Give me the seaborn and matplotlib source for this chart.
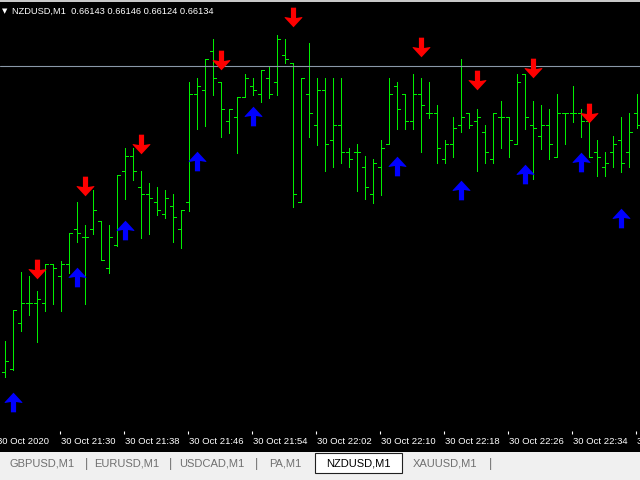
import numpy as np
import matplotlib
matplotlib.use("Agg")
import matplotlib.pyplot as plt
from matplotlib.path import Path
from matplotlib.patches import Rectangle
import seaborn as sns

# NZDUSD M1 bars (prices)
opens = [0.65828, 0.65831, 0.65877, 0.65897, 0.65897, 0.65897, 0.65936, 0.65924, 0.65936, 0.65971,
         0.65963, 0.65971, 0.65979, 0.65932, 0.65955, 0.66029, 0.66044, 0.66013, 0.66006, 0.65998,
         0.65986, 0.65994, 0.65971, 0.65998, 0.66106, 0.66110, 0.66149, 0.66118, 0.66079, 0.66083,
         0.66103, 0.66114, 0.66106, 0.66122, 0.66118, 0.66145, 0.66137, 0.65998, 0.66106, 0.66075,
         0.66110, 0.66060, 0.66075, 0.66048, 0.66048, 0.66033, 0.66006, 0.66033, 0.66056, 0.66114,
         0.66106, 0.66079, 0.66106, 0.66087, 0.66087, 0.66041, 0.66056, 0.66075, 0.66087, 0.66079,
         0.66068, 0.66041, 0.66083, 0.66083, 0.66056, 0.66126, 0.66075, 0.66064, 0.66075, 0.66043,
         0.66087, 0.66087, 0.66087, 0.66079, 0.66048, 0.66033, 0.66048, 0.66060, 0.66048, 0.66087]
highs = [0.65859, 0.65890, 0.65928, 0.65924, 0.65909, 0.65936, 0.65936, 0.65939, 0.65967, 0.65998,
         0.65975, 0.66010, 0.65979, 0.65975, 0.66025, 0.66052, 0.66052, 0.66029, 0.66017, 0.66013,
         0.66010, 0.66006, 0.65990, 0.66118, 0.66122, 0.66141, 0.66161, 0.66118, 0.66091, 0.66103,
         0.66126, 0.66122, 0.66130, 0.66134, 0.66165, 0.66161, 0.66137, 0.66122, 0.66157, 0.66122,
         0.66122, 0.66122, 0.66122, 0.66052, 0.66056, 0.66044, 0.66041, 0.66060, 0.66122, 0.66118,
         0.66106, 0.66126, 0.66122, 0.66118, 0.66095, 0.66060, 0.66083, 0.66141, 0.66087, 0.66091,
         0.66075, 0.66087, 0.66099, 0.66083, 0.66126, 0.66126, 0.66099, 0.66095, 0.66091, 0.66106,
         0.66087, 0.66114, 0.66091, 0.66079, 0.66060, 0.66048, 0.66064, 0.66083, 0.66087, 0.66106]
lows = [0.65823, 0.65830, 0.65869, 0.65885, 0.65858, 0.65889, 0.65896, 0.65889, 0.65927, 0.65958,
        0.65896, 0.65966, 0.65940, 0.65927, 0.65954, 0.66001, 0.66020, 0.65962, 0.65966, 0.65985,
        0.65982, 0.65958, 0.65952, 0.65989, 0.66071, 0.66074, 0.66105, 0.66063, 0.66067, 0.66047,
        0.66103, 0.66105, 0.66098, 0.66102, 0.66105, 0.66137, 0.65993, 0.65998, 0.66063, 0.66055,
        0.66029, 0.66033, 0.66037, 0.66033, 0.66009, 0.66001, 0.65997, 0.66005, 0.66056, 0.66071,
        0.66071, 0.66071, 0.66048, 0.66082, 0.66037, 0.66037, 0.66043, 0.66068, 0.66072, 0.66029,
        0.66037, 0.66037, 0.66052, 0.66043, 0.66056, 0.66071, 0.66021, 0.66051, 0.66041, 0.66043,
        0.66056, 0.66078, 0.66063, 0.66043, 0.66024, 0.66024, 0.66033, 0.66028, 0.66033, 0.66072]
closes = [0.65839, 0.65890, 0.65897, 0.65897, 0.65901, 0.65936, 0.65932, 0.65936, 0.65967, 0.65967,
          0.65963, 0.65990, 0.65940, 0.65963, 0.66025, 0.66044, 0.66029, 0.66006, 0.66002, 0.65990,
          0.66002, 0.65983, 0.65990, 0.66106, 0.66114, 0.66141, 0.66122, 0.66091, 0.66091, 0.66103,
          0.66122, 0.66110, 0.66130, 0.66106, 0.66161, 0.66141, 0.66006, 0.66122, 0.66087, 0.66110,
          0.66056, 0.66075, 0.66048, 0.66041, 0.66048, 0.66013, 0.66037, 0.66052, 0.66106, 0.66091,
          0.66079, 0.66106, 0.66095, 0.66087, 0.66052, 0.66056, 0.66072, 0.66083, 0.66075, 0.66083,
          0.66048, 0.66087, 0.66083, 0.66060, 0.66118, 0.66083, 0.66072, 0.66075, 0.66056, 0.66087,
          0.66087, 0.66087, 0.66079, 0.66043, 0.66043, 0.66037, 0.66056, 0.66037, 0.66068, 0.66075]

# indicator signals: bar index and arrow price
sell_bars = [4, 10, 17, 27, 36, 52, 59, 66, 73]
sell_prices = [0.65931, 0.66014, 0.66056, 0.66140, 0.66183, 0.66153, 0.66120, 0.66132, 0.66087]
buy_bars = [1, 9, 15, 24, 31, 49, 57, 65, 72, 77]
buy_prices = [0.65798, 0.65923, 0.65970, 0.66039, 0.66084, 0.66034, 0.66010, 0.66026, 0.66038, 0.65982]

bid_price = 0.66134
tick_bars = [-1, 7, 15, 23, 31, 39, 47, 55, 63, 71, 79]
tick_labels = ["30 Oct 2020", "30 Oct 21:30", "30 Oct 21:38", "30 Oct 21:46", "30 Oct 21:54",
               "30 Oct 22:02", "30 Oct 22:10", "30 Oct 22:18", "30 Oct 22:26", "30 Oct 22:34",
               "30 Oct 22:42"]
tabs = ["GBPUSD,M1", "EURUSD,M1", "USDCAD,M1", "PA,M1", "NZDUSD,M1", "XAUUSD,M1"]
header = "NZDUSD,M1  0.66143 0.66146 0.66124 0.66134"

sns.set_theme(style="dark", rc={"axes.facecolor": "black", "figure.facecolor": "black"})
plt.rcParams["font.family"] = ["Liberation Sans", "DejaVu Sans"]

# wingdings-like thick arrows
up_verts = [(0, 9.5), (8.5, 0.3), (8.5, -0.5), (2.5, 0.5), (2.5, -9.5), (-2.5, -9.5),
            (-2.5, 0.5), (-8.5, -0.5), (-8.5, 0.3), (0, 9.5)]
up_arrow = Path(up_verts, closed=True)
down_arrow = Path([(x, -y) for x, y in up_verts], closed=True)

fig = plt.figure(figsize=(6.4, 4.8), dpi=100)
ax = fig.add_axes([0, 50 / 480, 1, 430 / 480])
ax.set_facecolor("black")

bars = np.arange(len(opens))
green = "#00ee00"
ax.vlines(bars, lows, highs, color=green, lw=0.7, antialiased=False)
ax.hlines(opens, bars - 0.33, bars, color=green, lw=0.7, antialiased=False)
ax.hlines(closes, bars, bars + 0.33, color=green, lw=0.7, antialiased=False)
ax.axhline(bid_price, color="#8a98a8", lw=0.8)

sns.scatterplot(x=sell_bars, y=sell_prices, marker=down_arrow, s=200, color="#ff0000",
                linewidth=0, ax=ax, legend=False, zorder=3)
sns.scatterplot(x=buy_bars, y=buy_prices, marker=up_arrow, s=200, color="#0000ff",
                linewidth=0, ax=ax, legend=False, zorder=3)

ax.set_xlim(-0.625, 79.375)
ax.set_ylim(0.65770, 0.66200)
ax.set_xticks([])
ax.set_yticks([])
for s in ax.spines.values():
    s.set_visible(False)
ax.grid(False)
ax.set_xlabel("")
ax.set_ylabel("")

# time scale: small ticks under the chart, labels to the right of each tick
xt = ax.get_xaxis_transform()
tick_x = [b - 0.125 for b in tick_bars]
ax.vlines(tick_x, -4 / 430, -1 / 430, transform=xt, color="white", lw=0.8, clip_on=False)
for x, t in zip(tick_x, tick_labels):
    ax.text(x + 0.15, -11 / 430, t, transform=xt, color="white", fontsize=6.8,
            ha="left", va="center", clip_on=False)

def fy(px):
    return 1 - px / 480

# header line
fig.text(2 / 640, fy(11), "\u25bc", color="white", fontsize=5, va="center",
         family=["DejaVu Sans"])
fig.text(12 / 640, fy(11), header, color="white", fontsize=6.7, va="center")
fig.add_artist(Rectangle((0, fy(2)), 1, 2 / 480, transform=fig.transFigure,
                         color="#c8c8c8", lw=0))

# tab bar
fig.add_artist(Rectangle((0, 0), 1, 28 / 480, transform=fig.transFigure,
                         color="#f0f0f0", lw=0))
fig.add_artist(Rectangle((315 / 640, fy(473)), 87 / 640, 20 / 480, transform=fig.transFigure,
                         facecolor="white", edgecolor="#202020", lw=0.8))
tab_x = [42, 127, 212, 285, 358, 445]
for x, t in zip(tab_x, tabs):
    fig.text(x / 640, fy(464), t, color="black" if t == "NZDUSD,M1" else "#707070",
             fontsize=8, ha="center", va="center")
for x in [87, 171, 257, 491]:
    fig.text(x / 640, fy(464), "|", color="#707070", fontsize=9, ha="center", va="center")

fig.savefig("out.png", dpi=100, facecolor="black")
